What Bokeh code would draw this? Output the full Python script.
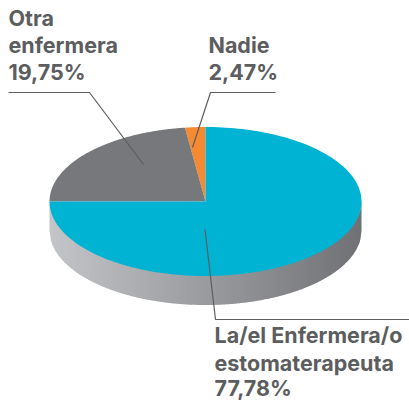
import numpy as np
from bokeh.plotting import figure
from bokeh.models import Range1d
from bokeh.embed import file_html
from bokeh.resources import INLINE
from bokeh.core.properties import value

# Published figures
categories = ["La/el Enfermera/o estomaterapeuta", "Otra enfermera", "Nadie"]
percent_labels = ["77,78%", "19,75%", "2,47%"]
# Shares as actually drawn in the picture (the drawing is not exactly proportional)
drawn_shares = [75.0, 22.9, 2.1]
slice_colors = ["#00B3D3", "#77787B", "#F58A32"]
side_light = (196, 197, 200)
side_dark = (112, 113, 116)

TEXT = "#5C5D5F"
FONT = "Inter"
FS = "21.5px"
cx, cy, rx, ry, depth = 205.0, 201.0, 156.0, 74.5, 29.0

p = figure(width=409, height=401, output_backend="svg", toolbar_location=None,
           x_range=Range1d(0, 409), y_range=Range1d(401, 0),
           min_border=0, outline_line_color=None)
p.axis.visible = False
p.grid.visible = False
p.background_fill_color = None
p.border_fill_color = None

# side wall
xs_side, ys_side, cols = [], [], []
edges = np.arange(cx - rx, cx + rx + 0.01, 3.0)
for a, b in zip(edges[:-1], edges[1:]):
    b2 = min(b + 0.8, cx + rx)
    xx = np.linspace(a, b2, 4)
    yy = cy + ry * np.sqrt(np.clip(1 - ((xx - cx) / rx) ** 2, 0, 1))
    xs_side.append(list(xx) + list(xx[::-1]))
    ys_side.append(list(yy - 1) + list((yy + depth)[::-1]))
    t = ((a + b) / 2 - (cx - rx)) / (2 * rx)
    c = [int(round(l + (d - l) * t)) for l, d in zip(side_light, side_dark)]
    cols.append("#%02x%02x%02x" % tuple(c))
p.patches(xs_side, ys_side, fill_color=cols, line_color=None)

# top face: starts at 12 o'clock, runs counter-clockwise through Nadie, Otra, then the main slice
order = [2, 1, 0]
start = 0.0
for i in order:
    end = start + drawn_shares[i] / 100 * 2 * np.pi
    th = np.linspace(start, end, 180)
    xx = cx - rx * np.sin(th)
    yy = cy - ry * np.cos(th)
    p.patch([cx] + list(xx), [cy] + list(yy), fill_color=slice_colors[i], line_color=None)
    start = end

# leader lines
for lx, ly in [([8, 89, 143], [92, 92, 164]),
               ([275, 210, 192], [92, 92, 147]),
               ([204.5, 215, 409], [229, 319, 319])]:
    p.line(lx, ly, line_color=TEXT, line_width=1.2)

# labels
dy = -9.5
labels = [(8, 27, "Otra"), (8, 54, "enfermera"), (8, 81, percent_labels[1]),
          (208, 54, categories[2]), (208, 81, percent_labels[2]),
          (214, 344, "La/el Enfermera/o"), (214, 372, "estomaterapeuta"), (214, 397, percent_labels[0])]
p.text([l[0] for l in labels], [l[1] + dy for l in labels], text=[l[2] for l in labels],
       text_font=value(FONT), text_font_size=FS, text_font_style="bold",
       text_color=TEXT, text_baseline="alphabetic", text_align="left")

open("out.html", "w").write(file_html(p, INLINE))
